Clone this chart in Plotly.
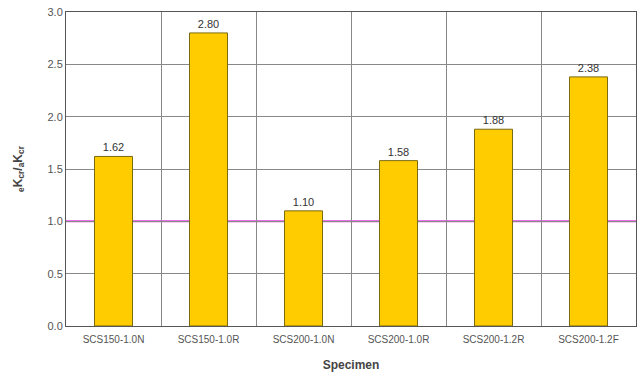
import plotly.graph_objects as go

specimens = ["SCS150-1.0N", "SCS150-1.0R", "SCS200-1.0N", "SCS200-1.0R", "SCS200-1.2R", "SCS200-1.2F"]
ratios = [1.62, 2.80, 1.10, 1.58, 1.88, 2.38]
reference_ratio = 1.0
y_ticks = [0.0, 0.5, 1.0, 1.5, 2.0, 2.5, 3.0]

fig = go.Figure()

fig.add_trace(go.Bar(
    x=specimens,
    y=ratios,
    width=0.4,
    marker=dict(color="#FFCC00", line=dict(color="#7a6a10", width=1)),
    text=[f"{v:.2f}" for v in ratios],
    textposition="outside",
    textfont=dict(family="Liberation Sans", size=11, color="#333333"),
    cliponaxis=False,
))

# horizontal reference at ratio = 1.0, drawn beneath the bars
fig.add_shape(
    type="line", xref="paper", x0=0, x1=1, yref="y",
    y0=reference_ratio, y1=reference_ratio,
    line=dict(color="#E040E0", width=2), layer="below",
)

fig.update_layout(
    width=638, height=376,
    margin=dict(l=66, r=2, t=12, b=50),
    paper_bgcolor="white", plot_bgcolor="white",
    showlegend=False,
    bargap=0.6,
    font=dict(family="Liberation Sans", size=11, color="#555555"),
)
fig.update_xaxes(
    type="category", tickson="boundaries",
    showgrid=True, gridcolor="#888888", gridwidth=1,
    showline=True, linecolor="#555555", linewidth=1, mirror=True,
    ticks="", ticklabelstandoff=4, tickfont=dict(size=10, color="#555555"),
    title=dict(text="<b>Specimen</b>", font=dict(size=12, color="#444444"), standoff=16),
)
fig.update_yaxes(
    range=[0, 3.0], tickvals=y_ticks, ticktext=[f"{v:.1f}" for v in y_ticks],
    showgrid=True, gridcolor="#888888", gridwidth=1,
    showline=True, linecolor="#555555", linewidth=1, mirror=True,
    ticks="", tickfont=dict(size=11, color="#555555"), zeroline=False,
    title=dict(text="<b><sub>e</sub>K<sub>cr</sub>/<sub>a</sub>K<sub>cr</sub></b>",
               font=dict(size=12, color="#444444"), standoff=22),
)

fig.write_html("out.html")
